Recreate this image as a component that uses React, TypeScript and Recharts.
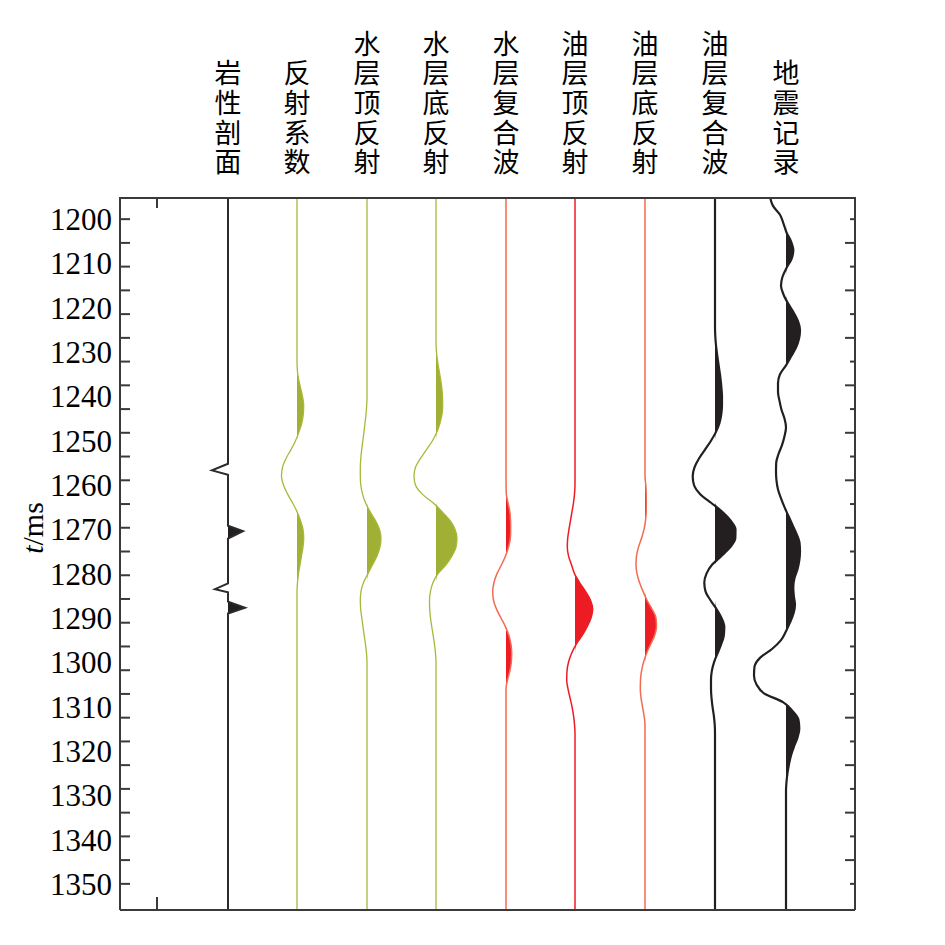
import React from "react";
import { ComposedChart, Line, Area, XAxis, YAxis } from "recharts";

// column headings, one per trace
const HEADERS = [
  "岩性剖面",
  "反射系数",
  "水层顶反射",
  "水层底反射",
  "水层复合波",
  "油层顶反射",
  "油层底反射",
  "油层复合波",
  "地震记录",
];

// baseline of each trace on the x axis
const TRACE_X = [108, 177, 247, 316, 386, 455, 525, 595, 666];
const X_DOMAIN = [0, 735];
const X_FRAME_TICK = [37];

// time axis
const T_DOMAIN = [1195, 1355.9];
const T_LABELS = [
  1200, 1210, 1220, 1230, 1240, 1250, 1260, 1270, 1280, 1290, 1300, 1310,
  1320, 1330, 1340, 1350,
];
// frame tick marks (they do not sit on the labels in the original)
const FRAME_TICKS_EVEN = [
  1200, 1210.71, 1221.43, 1232.14, 1242.86, 1253.57, 1264.29, 1275, 1285.71,
  1296.43, 1307.14, 1317.86, 1328.57, 1339.29, 1350,
];
const FRAME_TICKS_ODD = [
  1205.36, 1216.07, 1226.79, 1237.5, 1248.21, 1258.93, 1269.64, 1280.36,
  1291.07, 1301.79, 1312.5, 1323.21, 1333.93, 1344.64,
];
const FRAME_TICKS = [...FRAME_TICKS_EVEN, ...FRAME_TICKS_ODD];

// 岩性剖面
const LITHO_T = [
  1195, 1255.2, 1256.7, 1257.7, 1269.2, 1270.4, 1272.1, 1282.2, 1283.5, 1284.2,
  1286.3, 1287.7, 1289.0, 1356,
];
const LITHO_A = [0, 0, -16, 0, 0, 15, 0, 0, -13, 0, 0, 17, 0, 0];

// 反射系数
const REFL_T = [
  1195, 1232, 1234, 1236, 1238, 1240, 1242, 1244, 1246, 1248, 1250, 1252, 1254,
  1256, 1258, 1260, 1262, 1264, 1266, 1268, 1270, 1272, 1274, 1276, 1278, 1280,
  1282, 1284, 1356,
];
const REFL_A = [
  0, 0, 0.3, 1.5, 3.5, 5.5, 6.7, 6.3, 4.8, 2, -1.5, -6, -11, -14.5, -15.5,
  -13.5, -9.5, -4.5, 0, 3.5, 6, 6.7, 6, 4.5, 3, 1.5, 0.5, 0, 0,
];

// 水层顶反射
const WTOP_T = [
  1195, 1240, 1242, 1244, 1246, 1248, 1250, 1252, 1254, 1256, 1258, 1260, 1262,
  1264, 1266, 1268, 1270, 1272, 1274, 1276, 1278, 1280, 1282, 1284, 1286, 1288,
  1290, 1292, 1294, 1296, 1298, 1300, 1356,
];
const WTOP_A = [
  0, 0, -0.3, -1, -2, -3, -4.2, -5.3, -6.2, -6.7, -6.7, -6.2, -4.5, -1.5, 3,
  8.5, 12.5, 14, 13, 10, 5.5, 1, -3.5, -6, -6.7, -6.3, -5.2, -4, -2.8, -1.5,
  -0.5, 0, 0,
];

// 水层底反射
const WBOT_T = [
  1195, 1228, 1230, 1232, 1234, 1236, 1238, 1240, 1242, 1244, 1246, 1248, 1250,
  1252, 1254, 1256, 1258, 1260, 1262, 1264, 1266, 1268, 1270, 1272, 1274, 1276,
  1278, 1280, 1282, 1284, 1286, 1288, 1290, 1292, 1294, 1296, 1298, 1300, 1356,
];
const WBOT_A = [
  0, 0, 0.5, 1.5, 3, 4.5, 5.8, 6.5, 6.7, 6, 4, 1, -3.5, -9.5, -15.5, -20.5,
  -22, -20.5, -14, -3, 6, 14, 19, 21, 20, 16, 10, 2, -3, -5.5, -6.5, -6.3,
  -5.5, -4.2, -2.8, -1.5, -0.5, 0, 0,
];

// 水层复合波
const WCOMP_T = [
  1195, 1258, 1260, 1262, 1264, 1266, 1268, 1270, 1272, 1274, 1276, 1278, 1280,
  1282, 1284, 1286, 1288, 1290, 1292, 1294, 1296, 1298, 1300, 1302, 1304, 1306,
  1308, 1356,
];
const WCOMP_A = [
  0, 0, 0.1, 0.3, 2, 3.8, 4.5, 4.7, 4.3, 2.5, -0.5, -4.5, -9, -12, -13.3,
  -12.5, -9.5, -5, -0.5, 3, 5, 5.7, 5.3, 3.8, 1.5, 0, 0, 0,
];

// 油层顶反射
const OTOP_T = [
  1195, 1260, 1262, 1264, 1266, 1268, 1270, 1272, 1274, 1276, 1278, 1280, 1282,
  1284, 1286, 1288, 1290, 1292, 1294, 1296, 1298, 1300, 1302, 1304, 1306, 1308,
  1310, 1312, 1314, 1316, 1356,
];
const OTOP_A = [
  0, 0, -0.5, -1.5, -3, -4.5, -6, -7.3, -7.7, -6.5, -3.5, -0.5, 4.5, 10.5,
  15.5, 17.7, 16, 12, 7, 1, -3.5, -6.5, -8, -8.3, -7, -5, -3, -1.5, -0.5, 0, 0,
];

// 油层底反射
const OBOT_T = [
  1195, 1258, 1260, 1262, 1264, 1266, 1268, 1270, 1272, 1274, 1276, 1278, 1280,
  1282, 1284, 1286, 1288, 1290, 1292, 1294, 1296, 1298, 1300, 1302, 1304, 1306,
  1308, 1310, 1312, 1314, 1356,
];
const OBOT_A = [
  0, 0, 0.8, 1.2, 1.3, 1.2, 0.5, -1, -3.5, -6.5, -8.5, -9, -8, -5.5, -2, 2, 7,
  11, 11.5, 9.5, 5.5, 1.5, -1.5, -3.5, -4.5, -4.7, -4, -2.5, -1, 0, 0,
];

// 油层复合波
const OCOMP_T = [
  1195, 1224, 1226, 1228, 1230, 1232, 1234, 1236, 1238, 1240, 1242, 1244, 1246,
  1248, 1250, 1252, 1254, 1256, 1258, 1260, 1262, 1264, 1266, 1268, 1270, 1272,
  1274, 1276, 1278, 1280, 1282, 1284, 1286, 1288, 1290, 1292, 1294, 1296, 1298,
  1300, 1302, 1304, 1306, 1308, 1310, 1312, 1314, 1316, 1356,
];
const OCOMP_A = [
  0, 0, 0.2, 0.8, 1.8, 3, 4.3, 5.5, 6.4, 7, 7, 6.3, 4.5, 1, -4, -10, -16,
  -20.5, -22.3, -21, -15, -4, 7, 15.5, 20.5, 20.3, 15.3, 6.5, -3, -8.5, -10.7,
  -9.5, -4.5, 1.5, 6.5, 9.3, 8.8, 6, 2.5, -1, -3.2, -4, -4, -3.5, -2.5, -1.2,
  -0.3, 0, 0,
];

// 地震记录
const SEIS_T = [
  1195, 1197, 1199, 1201, 1203, 1205, 1207, 1209, 1211, 1213, 1215, 1217, 1219,
  1221, 1223, 1225, 1227, 1229, 1231, 1233, 1235, 1237, 1239, 1241, 1243, 1245,
  1247, 1249, 1251, 1253, 1255, 1257, 1259, 1261, 1263, 1265, 1267, 1269, 1271,
  1273, 1275, 1277, 1279, 1281, 1283, 1285, 1287, 1289, 1291, 1293, 1295, 1297,
  1299, 1301, 1303, 1305, 1307, 1309, 1311, 1313, 1315, 1317, 1319, 1321, 1323,
  1325, 1327, 1329, 1356,
];
const SEIS_A = [
  -16, -13, -6, -2.5, 0.5, 5, 7.3, 5.5, 0.5, -3.5, -5, -2.5, 2, 7.5, 12, 14, 13,
  10, 5, 0, -6, -8, -8, -6.5, -4.5, -1.5, 0, -1.5, -4, -7.5, -9.8, -10, -9.5,
  -8, -5, -1.5, 2.5, 6.5, 10.5, 13.5, 14, 13.3, 11.5, 8.5, 7.3, 7.8, 9, 7.5, 4,
  0, -5, -14, -26, -31.5, -32, -29.5, -22, -3, 6.5, 12.5, 13.3, 11.5, 8, 5, 3,
  1.5, 0.5, 0, 0,
];

const BLACK = "#231f20";
const GREEN_LINE = "#a9b83a";
const GREEN_FILL = "#9fb034";
const RED = "#ed1c24";
const ORANGE_LINE = "#f36b52";
const FRAME = "#3a3a3a";

type Trace = {
  t: number[];
  a: number[];
  line: string;
  fill: string;
  width: number;
  curve: "linear" | "monotone";
};

const TRACES: Trace[] = [
  { t: LITHO_T, a: LITHO_A, line: "#2b2b2b", fill: BLACK, width: 2, curve: "linear" },
  { t: REFL_T, a: REFL_A, line: GREEN_LINE, fill: GREEN_FILL, width: 1.3, curve: "monotone" },
  { t: WTOP_T, a: WTOP_A, line: GREEN_LINE, fill: GREEN_FILL, width: 1.3, curve: "monotone" },
  { t: WBOT_T, a: WBOT_A, line: GREEN_LINE, fill: GREEN_FILL, width: 1.3, curve: "monotone" },
  { t: WCOMP_T, a: WCOMP_A, line: ORANGE_LINE, fill: RED, width: 1.5, curve: "monotone" },
  { t: OTOP_T, a: OTOP_A, line: RED, fill: RED, width: 1.5, curve: "monotone" },
  { t: OBOT_T, a: OBOT_A, line: ORANGE_LINE, fill: RED, width: 1.5, curve: "monotone" },
  { t: OCOMP_T, a: OCOMP_A, line: BLACK, fill: BLACK, width: 2.2, curve: "monotone" },
  { t: SEIS_T, a: SEIS_A, line: BLACK, fill: BLACK, width: 2.2, curve: "monotone" },
];

const lineData = (tr: Trace, i: number) =>
  tr.t.map((t, k) => ({ t, x: TRACE_X[i] + tr.a[k] }));

// variable-area fill: only the right-hand (positive) lobes
const fillData = (tr: Trace, i: number) =>
  tr.t.map((t, k) => ({ t, f: [TRACE_X[i], TRACE_X[i] + Math.max(0, tr.a[k])] }));

// headings are written top-to-bottom, bottom-aligned
// eslint-disable-next-line @typescript-eslint/no-explicit-any
function HeaderTick(props: any) {
  const { x, index } = props;
  return (
    <text
      x={x}
      y={178}
      textAnchor="end"
      fontSize={27}
      fontFamily='"Noto Sans CJK SC"'
      fill="#000"
      style={{ writingMode: "vertical-rl", letterSpacing: "2.6px" }}
    >
      {HEADERS[index]}
    </text>
  );
}

const NoLabel = () => <g />;

const AxisTitle = () => (
  <text
    x={43}
    y={528}
    transform="rotate(-90 43 528)"
    textAnchor="middle"
    fontFamily='"Liberation Serif"'
    fontSize={30}
    fill="#000"
  >
    <tspan fontStyle="italic">t</tspan>/ms
  </text>
);

export default function App() {
  const frameLine = { stroke: FRAME, strokeWidth: 2 };
  return (
    <div style={{ position: "absolute", left: 0, top: 0, background: "#fff" }}>
      <ComposedChart
        layout="vertical"
        width={945}
        height={945}
        margin={{ top: 197, right: 90, bottom: 35, left: 0 }}
      >
        <XAxis
          xAxisId="b"
          type="number"
          domain={X_DOMAIN}
          allowDataOverflow
          orientation="bottom"
          mirror
          height={1}
          ticks={X_FRAME_TICK}
          interval={0}
          tick={NoLabel}
          tickSize={13}
          tickLine={frameLine}
          axisLine={frameLine}
        />
        <XAxis
          xAxisId="top"
          type="number"
          domain={X_DOMAIN}
          allowDataOverflow
          orientation="top"
          mirror
          height={1}
          ticks={X_FRAME_TICK}
          interval={0}
          tick={NoLabel}
          tickSize={10}
          tickLine={frameLine}
          axisLine={frameLine}
        />
        <XAxis
          xAxisId="hdr"
          type="number"
          domain={X_DOMAIN}
          allowDataOverflow
          orientation="top"
          mirror
          height={1}
          ticks={TRACE_X}
          interval={0}
          tick={HeaderTick}
          tickLine={false}
          axisLine={false}
        />
        <YAxis
          yAxisId="t"
          type="number"
          dataKey="t"
          domain={T_DOMAIN}
          allowDataOverflow
          orientation="left"
          width={120}
          ticks={T_LABELS}
          interval={0}
          tickSize={0}
          tickMargin={8}
          tickLine={false}
          axisLine={frameLine}
          tick={{ fill: "#000", fontSize: 31, fontFamily: '"Liberation Serif"' }}
          label={{ content: <AxisTitle /> }}
        />
        <YAxis
          yAxisId="tl"
          type="number"
          dataKey="t"
          domain={T_DOMAIN}
          allowDataOverflow
          orientation="left"
          mirror
          width={1}
          ticks={FRAME_TICKS}
          interval={0}
          tick={NoLabel}
          tickSize={10}
          tickLine={frameLine}
          axisLine={false}
        />
        <YAxis
          yAxisId="tr1"
          type="number"
          dataKey="t"
          domain={T_DOMAIN}
          allowDataOverflow
          orientation="right"
          mirror
          width={1}
          ticks={FRAME_TICKS_EVEN}
          interval={0}
          tick={NoLabel}
          tickSize={5}
          tickLine={frameLine}
          axisLine={frameLine}
        />
        <YAxis
          yAxisId="tr2"
          type="number"
          dataKey="t"
          domain={T_DOMAIN}
          allowDataOverflow
          orientation="right"
          mirror
          width={1}
          ticks={FRAME_TICKS_ODD}
          interval={0}
          tick={NoLabel}
          tickSize={9}
          tickLine={frameLine}
          axisLine={false}
        />

        {TRACES.map((tr, i) => (
          <Area
            key={`f${i}`}
            data={fillData(tr, i)}
            dataKey="f"
            xAxisId="b"
            yAxisId="t"
            type={tr.curve}
            stroke="none"
            fill={tr.fill}
            fillOpacity={1}
            isAnimationActive={false}
          />
        ))}
        {TRACES.map((tr, i) => (
          <Line
            key={`l${i}`}
            data={lineData(tr, i)}
            dataKey="x"
            xAxisId="b"
            yAxisId="t"
            type={tr.curve}
            stroke={tr.line}
            strokeWidth={tr.width}
            dot={false}
            activeDot={false}
            isAnimationActive={false}
          />
        ))}
      </ComposedChart>
    </div>
  );
}
